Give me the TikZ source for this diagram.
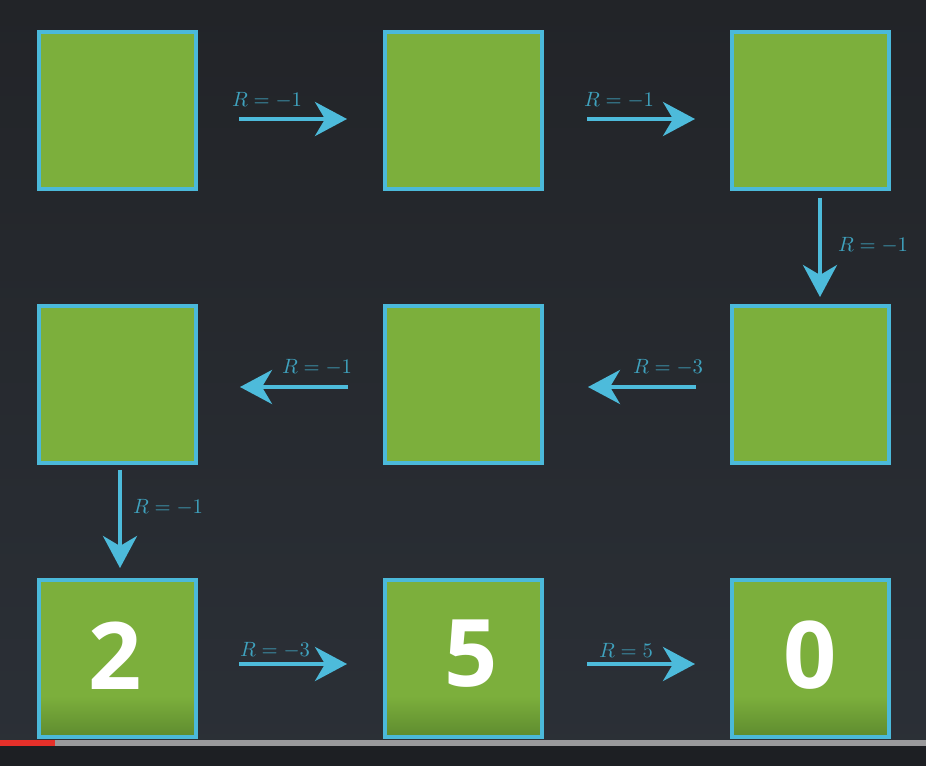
\documentclass[tikz,border=0pt]{standalone}
\usepackage{graphicx}
\usepackage{fontspec}
\newfontfamily\digitfont{Open Sans}
\usetikzlibrary{arrows.meta,calc}
\definecolor{bgA}{HTML}{222428}
\definecolor{bgB}{HTML}{2B3037}
\definecolor{cellgreen}{HTML}{7CAF3C}
\definecolor{celldark}{HTML}{5E8B2F}
\definecolor{cellblue}{HTML}{4BB9DA}
\definecolor{arrowblue}{HTML}{4DBBDB}
\definecolor{labelblue}{HTML}{3FA2BE}
\definecolor{barred}{HTML}{E5302A}
\definecolor{bargray}{HTML}{9A9A9C}
\definecolor{bottomdark}{HTML}{1D1F23}
\pgfdeclareverticalshading{goalshade}{100bp}{color(0bp)=(celldark); color(25bp)=(celldark); color(38bp)=(cellgreen); color(100bp)=(cellgreen)}
\newcommand{\rlab}[1]{\scalebox{1.55}{$#1$}}
\tikzset{
  cell/.style={draw=cellblue, line width=3pt, fill=cellgreen, minimum size=117.75pt, inner sep=0pt, outer sep=1.5pt},
  goalcell/.style={cell, shading=goalshade},
  arr/.style={draw=arrowblue, line width=3pt, -{Stealth[length=24pt, width=25.5pt, inset=7.5pt]}},
  lab/.style={text=labelblue, inner sep=0pt},
  digit/.style={text=white, font=\digitfont\bfseries\fontsize{70pt}{76pt}\selectfont, inner sep=0pt}
}
\begin{document}
\begin{tikzpicture}[x=0.75pt, y=-0.75pt]
\useasboundingbox (0,0) rectangle (926,766);
\shade[top color=bgA, bottom color=bgB] (0,0) rectangle (926,766);
\fill[bottomdark] (0,743) rectangle (926,766);

% cells
\node[cell] (s11) at (117.5,110.5) {};
\node[cell] (s12) at (463.5,110.5) {};
\node[cell] (s13) at (810.5,110.5) {};
\node[cell] (s21) at (117.5,384.5) {};
\node[cell] (s22) at (463.5,384.5) {};
\node[cell] (s23) at (810.5,384.5) {};
\node[goalcell] (s31) at (117.5,658.5) {};
\node[goalcell] (s32) at (463.5,658.5) {};
\node[goalcell] (s33) at (810.5,658.5) {};

% values
\node[digit] (v31) at (115,656) {2};
\node[digit] (v32) at (471,654) {5};
\node[digit] (v33) at (810,655) {0};

% arrows
\draw[arr, shorten <=30.75pt, shorten >=27pt] ($(s11.east)+(0,8.5)$) -- ($(s12.west)+(0,8.5)$);
\draw[arr, shorten <=32.25pt, shorten >=26.25pt] ($(s12.east)+(0,8.5)$) -- ($(s13.west)+(0,8.5)$);
\draw[arr, shorten <=5.25pt, shorten >=5.25pt] ($(s13.south)+(9.5,0)$) -- ($(s23.north)+(9.5,0)$);
\draw[arr, shorten <=25.5pt, shorten >=33pt] ($(s23.west)+(0,2.5)$) -- ($(s22.east)+(0,2.5)$);
\draw[arr, shorten <=26.25pt, shorten >=31.5pt] ($(s22.west)+(0,2.5)$) -- ($(s21.east)+(0,2.5)$);
\draw[arr, shorten <=3.75pt, shorten >=7.5pt] ($(s21.south)+(2.5,0)$) -- ($(s31.north)+(2.5,0)$);
\draw[arr, shorten <=30.75pt, shorten >=27pt] ($(s31.east)+(0,5.5)$) -- ($(s32.west)+(0,5.5)$);
\draw[arr, shorten <=32.25pt, shorten >=26.25pt] ($(s32.east)+(0,5.5)$) -- ($(s33.west)+(0,5.5)$);

% labels
\node[lab] (l1) at (267,100) {\rlab{R=-1}};
\node[lab] (l2) at (619,100) {\rlab{R=-1}};
\node[lab] (l3) at (873,245) {\rlab{R=-1}};
\node[lab] (l4) at (668,367) {\rlab{R=-3}};
\node[lab] (l5) at (317,367) {\rlab{R=-1}};
\node[lab] (l6) at (168,507) {\rlab{R=-1}};
\node[lab] (l7) at (275,650) {\rlab{R=-3}};
\node[lab] (l8) at (626,650) {\rlab{R=5}};

% progress bar
\fill[bargray] (55,740) rectangle (926,746);
\fill[barred] (0,740) rectangle (55,746);
\end{tikzpicture}
\end{document}
